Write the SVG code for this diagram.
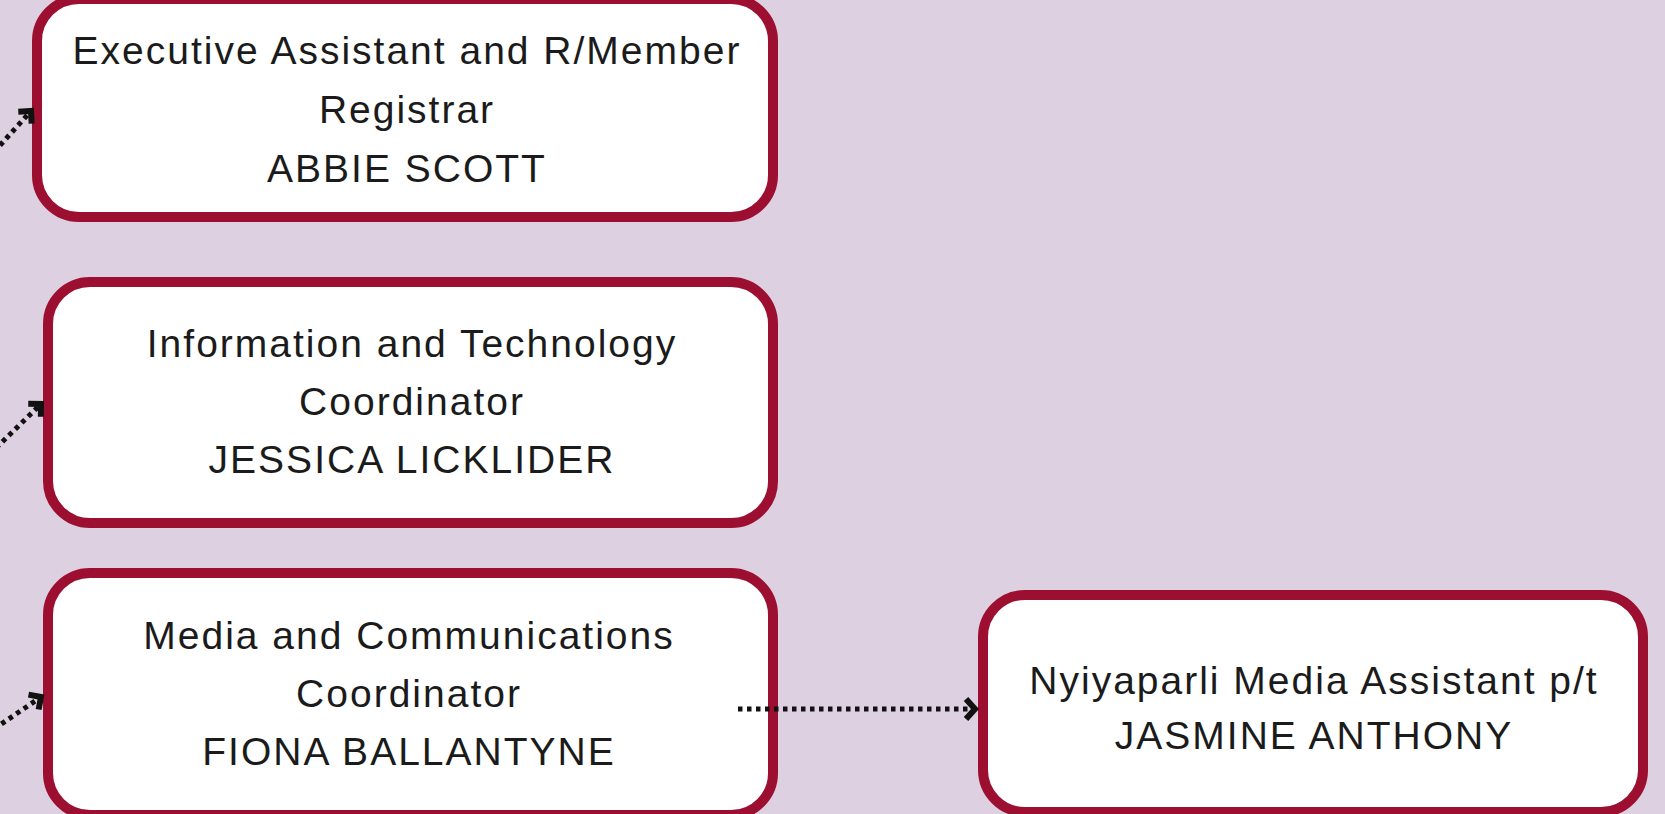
<svg xmlns="http://www.w3.org/2000/svg" width="1665" height="814" viewBox="0 0 1665 814">
<defs>
<style>
.box{fill:#ffffff;stroke:#9c0f30;stroke-width:10}
.t{font-family:"Liberation Sans",Arial,sans-serif;font-size:39px;letter-spacing:2px;fill:#1b1b1b;text-anchor:middle}
.c{fill:none;stroke:#111;stroke-width:5;stroke-dasharray:4.5 4.5}
</style>
<marker id="arr" markerWidth="26" markerHeight="26" refX="13" refY="13" orient="auto" markerUnits="userSpaceOnUse">
<path d="M4,3 L13,13 L4,23" fill="none" stroke="#111" stroke-width="6" stroke-linejoin="miter"/>
</marker>
<marker id="arrs" markerWidth="24" markerHeight="24" refX="12" refY="12" orient="auto" markerUnits="userSpaceOnUse">
<path d="M3,3 L12,12 L3,21" fill="none" stroke="#111" stroke-width="6" stroke-linejoin="miter"/>
</marker>
</defs>
<rect width="1665" height="814" fill="#ddd0e0"/>
<g id="node-abbie">
<rect class="box" x="37" y="-1" width="736" height="218" rx="42"/>
<text class="t" x="407" y="64">Executive Assistant and R/Member</text>
<text class="t" x="407" y="123">Registrar</text>
<text class="t" x="407" y="182">ABBIE SCOTT</text>
</g>
<g id="node-jessica">
<rect class="box" x="48" y="282" width="725" height="241" rx="42"/>
<text class="t" x="412" y="357">Information and Technology</text>
<text class="t" x="412" y="415">Coordinator</text>
<text class="t" x="412" y="473">JESSICA LICKLIDER</text>
</g>
<g id="node-fiona">
<rect class="box" x="48" y="573" width="725" height="242" rx="42"/>
<text class="t" x="409" y="649">Media and Communications</text>
<text class="t" x="409" y="707">Coordinator</text>
<text class="t" x="409" y="765">FIONA BALLANTYNE</text>
</g>
<g id="node-jasmine">
<rect class="box" x="983" y="595" width="660" height="217" rx="42"/>
<text class="t" x="1314" y="694">Nyiyaparli Media Assistant p/t</text>
<text class="t" x="1314" y="749">JASMINE ANTHONY</text>
</g>
<g id="connectors">
<path class="c" d="M-6,152 L31,111" marker-end="url(#arrs)"/>
<path class="c" d="M-4,448 L41,404" marker-end="url(#arrs)"/>
<path class="c" d="M-6,729 L41,697" marker-end="url(#arrs)"/>
<path class="c" d="M738,709 L975,709" marker-end="url(#arr)"/>
</g>
</svg>
